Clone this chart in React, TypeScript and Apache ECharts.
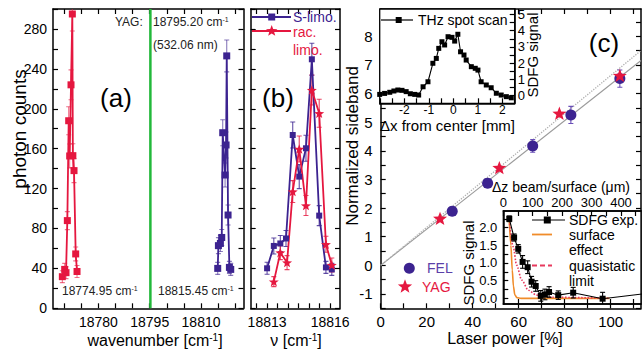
import React, { useEffect, useRef } from "react";
import * as echarts from "echarts";

const FONT = "'Liberation Sans', Arial, Helvetica, sans-serif";
const RED = "#e5173f";
const PURPLE = "#3c2390";
const GREEN = "#22b83a";
const ORANGE = "#f08c2a";
const PINK = "#e83a5e";

// ---------- Panel (a) ----------
const aRedX = [18769.48, 18770.16, 18770.55, 18770.94, 18771.33, 18771.62, 18772.01, 18772.4, 18772.55, 18772.89, 18773.38, 18773.77];
const aRedY = [31.7, 39, 35.7, 87.9, 188, 152.7, 224, 295, 153, 138, 54.5, 36.9];
const aRedErr = [6, 6, 6, 9, 14, 12, 15, 17, 12, 12, 7, 6];
const aBlueX = [18814.87, 18815.07, 18815.65, 18816.04, 18816.33, 18817.02, 18817.31, 18817.5, 18817.89, 18818.28, 18818.67];
const aBlueY = [40, 62.8, 65, 71, 176, 133.6, 163.7, 253, 93.5, 41, 39];
const aBlueErr = [6, 8, 8, 8, 13, 12, 13, 16, 10, 6, 6];
const yagLine = 18795.2;
const aXLabels = [18780, 18795, 18810];
const aYLabels = [0, 40, 80, 120, 160, 200, 240, 280];

// ---------- Panel (b) ----------
const bSX = [18813.0, 18813.32, 18813.63, 18813.9, 18814.22, 18814.53, 18814.85, 18815.13, 18815.48, 18815.8, 18816.08];
const bSY = [40.1, 62.5, 65, 70, 173.7, 132, 160.4, 249.6, 92.9, 41, 39];
const bSErr = [6, 8, 8, 8, 13, 12, 13, 16, 10, 6, 6];
const bRX = [18813.32, 18813.63, 18813.95, 18814.22, 18814.53, 18814.85, 18815.13, 18815.48, 18815.8, 18816.08];
const bRY = [26.7, 55.8, 45.8, 117, 159.7, 103, 218.8, 195.5, 64.2, 43.4];
const bRErr = [5, 7, 7, 11, 13, 10, 15, 14, 8, 7];
const bXLabels = [18813, 18816];

// ---------- Panel (c) ----------
const felX = [31.1, 46.5, 66.1, 82.7, 104];
const felY = [1.89, 2.87, 4.17, 5.25, 6.52];
const felErr = [0.15, 0.12, 0.22, 0.3, 0.3];
const yagX = [25.8, 51.6, 77.7, 104];
const yagY = [1.64, 3.41, 5.31, 6.63];
const fitSolid = [[0, 0], [113.2, 7.15]];
const fitDotted = [[0, 0], [113.2, 7.5]];
const cXLabels = [0, 20, 40, 60, 80, 100];
const cYLabels = [-1, 0, 1, 2, 3, 4, 5, 6, 7, 8];

// ---------- Inset 1 (THz spot scan) ----------
const thzX = [-3.01, -2.81, -2.6, -2.43, -2.27, -2.1, -1.93, -1.76, -1.58, -1.42, -1.24, -1.04, -0.84, -0.7, -0.6, -0.47, -0.36, -0.22, -0.06, 0.05, 0.18, 0.29, 0.43, 0.52, 0.73, 0.89, 1.0, 1.13, 1.34, 1.54, 1.75, 1.95, 2.16, 2.36];
const thzY = [0.07, 0.13, 0.2, 0.28, 0.34, 0.32, 0.24, 0.11, 0.07, 0.03, 0.54, 0.85, 1.99, 2.29, 2.91, 3.32, 3.12, 3.63, 3.59, 3.36, 3.78, 2.7, 2.5, 2.19, 1.78, 1.68, 1.57, 0.85, 0.65, 0.48, 0.14, 0.03, -0.07, -0.14];
const thzXLabels = [-2, -1, 0, 1, 2];
const thzYLabels = [0, 1, 2, 3, 4, 5];

// ---------- Inset 2 (SDFG vs beam/surface distance) ----------
const sdfgX = [55.9, 58.0, 59.8, 61.7, 63.9, 65.6, 67.4, 69.6, 71.4, 73.2, 77.2, 83.7, 96.5, 116];
const sdfgY = [2.25, 1.72, 1.4, 1.03, 0.88, 0.47, 0.35, 0.07, 0.11, 0.18, 0.09, 0.16, -0.01, 0.14];
const sdfgErr = [0.08, 0.1, 0.12, 0.18, 0.18, 0.15, 0.15, 0.15, 0.15, 0.15, 0.12, 0.15, 0.18, 0.15];
const surfX = [55.9, 56.6, 57.2, 57.7, 58.3, 59.2, 61.0, 99.5];
const surfY = [2.2, 1.5, 0.8, 0.35, 0.1, 0.02, 0.0, 0.0];
const quasiX = [55.9, 57.6, 59.1, 61.3, 64.2, 67.8, 75, 99.7];
const quasiY = [2.2, 1.46, 0.94, 0.52, 0.23, 0.09, 0.03, 0.0];
const dzLabels = [0, 100, 200, 300, 400];
const in2YLabels = [0, 0.5, 1.0, 1.5, 2.0];

// ---------- helpers ----------
function steps(a: number, b: number, s: number): number[] {
  const out: number[] = [];
  for (let v = a; v <= b + 1e-9; v += s) out.push(Math.round(v * 1000) / 1000);
  return out;
}
function zip(xs: number[], ys: number[]) {
  return xs.map((x, i) => [x, ys[i]]);
}
function starPath(): string {
  const pts: string[] = [];
  for (let i = 0; i < 10; i++) {
    const r = i % 2 === 0 ? 50 : 21;
    const a = ((-90 + i * 36) * Math.PI) / 180;
    pts.push(`${(50 + r * Math.cos(a)).toFixed(2)},${(50 + r * Math.sin(a)).toFixed(2)}`);
  }
  return "path://M" + pts.join("L") + "Z";
}
function starPoly(cx: number, cy: number, R: number) {
  const pts: number[][] = [];
  for (let i = 0; i < 10; i++) {
    const r = i % 2 === 0 ? R : R * 0.42;
    const a = ((-90 + i * 36) * Math.PI) / 180;
    pts.push([cx + r * Math.cos(a), cy + r * Math.sin(a)]);
  }
  return pts;
}
const STAR = starPath();

function axis(gridIndex: number, position: string, min: number, max: number, ticks: number[], labels: number[] | null, lab: any = {}, z = 0) {
  return {
    type: "value",
    gridIndex,
    position,
    min,
    max,
    z,
    axisLine: { show: true, onZero: false, lineStyle: { color: "#000", width: 1.5 } },
    axisTick: { show: true, inside: true, length: 5, customValues: ticks, lineStyle: { color: "#000", width: 1.2 } },
    axisLabel: labels
      ? { show: true, customValues: labels, color: "#000", fontFamily: FONT, fontSize: 14, margin: 6, formatter: (v: number) => String(v), ...lab }
      : { show: false },
    splitLine: { show: false },
    minorTick: { show: false },
  };
}

function errSeries(xs: number[], ys: number[], errs: number[], xi: number, yi: number, color: string, cap: number, z: number, opacity = 1) {
  return {
    type: "custom",
    xAxisIndex: xi,
    yAxisIndex: yi,
    z,
    silent: true,
    clip: true,
    data: xs.map((x, i) => [x, ys[i] - errs[i], ys[i] + errs[i]]),
    encode: { x: 0, y: [1, 2] },
    renderItem: (params: any, api: any) => {
      const x = api.value(0);
      const p1 = api.coord([x, api.value(1)]);
      const p2 = api.coord([x, api.value(2)]);
      const style = { stroke: color, lineWidth: 1.1, fill: null, opacity };
      return {
        type: "group",
        children: [
          { type: "line", shape: { x1: p1[0], y1: p1[1], x2: p2[0], y2: p2[1] }, style },
          { type: "line", shape: { x1: p1[0] - cap, y1: p1[1], x2: p1[0] + cap, y2: p1[1] }, style },
          { type: "line", shape: { x1: p2[0] - cap, y1: p2[1], x2: p2[0] + cap, y2: p2[1] }, style },
        ],
      };
    },
  };
}

function txt(x: number, y: number, text: string, o: any = {}) {
  const size = o.size || 14;
  return {
    type: "text",
    x,
    y,
    z: 30,
    rotation: o.rot || 0,
    style: {
      text,
      fontSize: size,
      fontFamily: FONT,
      fill: o.color || "#000",
      textAlign: o.align || "left",
      align: o.align || "left",
      textVerticalAlign: "middle",
      verticalAlign: "middle",
      rich: {
        s: { fontSize: Math.round(size * 0.62), fontFamily: FONT, fill: o.color || "#000", verticalAlign: "top", lineHeight: size },
      },
    },
  };
}
function seg(x1: number, y1: number, x2: number, y2: number, stroke: string, w = 1.5, dash: any = null) {
  return { type: "line", z: 30, shape: { x1, y1, x2, y2 }, style: { stroke, lineWidth: w, lineDash: dash } };
}
function sq(cx: number, cy: number, s: number, fill: string) {
  return { type: "rect", z: 31, shape: { x: cx - s / 2, y: cy - s / 2, width: s, height: s }, style: { fill } };
}

export default function App() {
  const ref = useRef<HTMLDivElement>(null);
  useEffect(() => {
    document.body.style.margin = "0";
    const chart = echarts.init(ref.current as HTMLDivElement, null, { renderer: "svg" });
    const insetGrid = { show: true, backgroundColor: "#fff", borderColor: "#000", borderWidth: 1.3, z: 5, outerBoundsMode: "none" };
    const option: any = {
      animation: false,
      backgroundColor: "#fff",
      grid: [
        { left: 53, top: 9, width: 190.5, height: 299.3, outerBoundsMode: "none" },
        { left: 250.7, top: 9, width: 89.3, height: 299.3, outerBoundsMode: "none" },
        { left: 380.7, top: 9, width: 260.3, height: 299.3, outerBoundsMode: "none" },
        { left: 379.7, top: 9, width: 135, height: 94.3, ...insetGrid },
        { left: 503.3, top: 211, width: 137.7, height: 93, ...insetGrid },
      ],
      xAxis: [
        axis(0, "bottom", 18766.75, 18822.4, steps(18770, 18820, 5), aXLabels, { margin: 7 }),
        axis(0, "top", 18766.75, 18822.4, steps(18770, 18820, 5), null),
        axis(1, "bottom", 18812.22, 18816.47, steps(18812.5, 18816, 0.5), bXLabels, { margin: 7 }),
        axis(1, "top", 18812.22, 18816.47, steps(18812.5, 18816, 0.5), null),
        axis(2, "bottom", 0, 113.2, steps(0, 110, 10), cXLabels, { fontSize: 15, margin: 6 }),
        axis(2, "top", 0, 113.2, steps(0, 110, 10), null),
        axis(3, "bottom", -3.01, 2.5, steps(-3, 2.5, 0.5), thzXLabels, { fontSize: 12, margin: 1 }, 9),
        axis(4, "bottom", 53.3, 113.2, steps(60, 110, 10), null, {}, 9),
        axis(4, "top", 0, 468, steps(0, 450, 50), dzLabels, { fontSize: 13, margin: 2 }, 9),
      ],
      yAxis: [
        axis(0, "left", 0, 300, steps(0, 300, 20), aYLabels, { margin: 6 }),
        axis(0, "right", 0, 300, steps(0, 300, 20), null),
        axis(1, "left", 0, 300, steps(0, 300, 20), null),
        axis(1, "right", 0, 300, steps(0, 300, 20), null),
        axis(2, "left", -1.5, 8.95, steps(-1.5, 8.5, 0.5), cYLabels, { fontSize: 15, margin: 8 }),
        axis(2, "right", -1.5, 8.95, steps(-1.5, 8.5, 0.5), null),
        axis(3, "right", -0.48, 5.34, steps(0, 5, 0.5), thzYLabels, { fontSize: 13, margin: 3 }, 9),
        axis(4, "left", -0.16, 2.47, steps(0, 2.25, 0.25), in2YLabels, { fontSize: 13, margin: 6, formatter: (v: number) => v.toFixed(1) }, 9),
      ],
      series: [
        // (a)
        { type: "line", xAxisIndex: 0, yAxisIndex: 0, data: [[yagLine, 0], [yagLine, 300]], symbol: "none", lineStyle: { color: GREEN, width: 2.5 }, z: 2 },
        errSeries(aRedX, aRedY, aRedErr, 0, 0, RED, 2.5, 2, 0.6),
        errSeries(aBlueX, aBlueY, aBlueErr, 0, 0, PURPLE, 2.5, 2, 0.6),
        { type: "line", xAxisIndex: 0, yAxisIndex: 0, data: zip(aRedX, aRedY), symbol: "rect", symbolSize: 7, itemStyle: { color: RED }, lineStyle: { color: RED, width: 1.8 }, z: 3 },
        { type: "line", xAxisIndex: 0, yAxisIndex: 0, data: zip(aBlueX, aBlueY), symbol: "rect", symbolSize: 7, itemStyle: { color: PURPLE }, lineStyle: { color: PURPLE, width: 1.8 }, z: 3 },
        // (b)
        errSeries(bSX, bSY, bSErr, 2, 2, PURPLE, 2.5, 2, 0.8),
        errSeries(bRX, bRY, bRErr, 2, 2, RED, 2.5, 2, 0.8),
        { type: "line", xAxisIndex: 2, yAxisIndex: 2, data: zip(bSX, bSY), symbol: "rect", symbolSize: 6, itemStyle: { color: PURPLE }, lineStyle: { color: PURPLE, width: 1.8 }, z: 3 },
        { type: "line", xAxisIndex: 2, yAxisIndex: 2, data: zip(bRX, bRY), symbol: STAR, symbolKeepAspect: true, symbolSize: 10, itemStyle: { color: RED }, lineStyle: { color: RED, width: 1.8 }, z: 3 },
        // (c)
        { type: "line", xAxisIndex: 4, yAxisIndex: 4, data: fitSolid, symbol: "none", lineStyle: { color: "#9a9a9a", width: 1.1 }, z: 2 },
        { type: "line", xAxisIndex: 4, yAxisIndex: 4, data: fitDotted, symbol: "none", lineStyle: { color: "#b0b0b0", width: 1.3, type: "dotted" }, z: 2 },
        errSeries(felX, felY, felErr, 4, 4, "#6a4fb8", 2.5, 3),
        { type: "scatter", xAxisIndex: 4, yAxisIndex: 4, data: zip(felX, felY), symbol: "circle", symbolSize: 11, itemStyle: { color: PURPLE, opacity: 1 }, z: 4 },
        { type: "scatter", xAxisIndex: 4, yAxisIndex: 4, data: zip(yagX, yagY), symbol: STAR, symbolKeepAspect: true, symbolSize: 14, itemStyle: { color: RED, opacity: 1 }, z: 4 },
        // inset 1
        { type: "line", xAxisIndex: 6, yAxisIndex: 6, data: zip(thzX, thzY), symbol: "rect", symbolSize: 5, itemStyle: { color: "#000" }, lineStyle: { color: "#000", width: 1.1 }, z: 8 },
        // inset 2
        { type: "line", xAxisIndex: 7, yAxisIndex: 7, data: zip(surfX, surfY), symbol: "none", smooth: 0.3, smoothMonotone: "x", lineStyle: { color: ORANGE, width: 1.6 }, z: 7 },
        { type: "line", xAxisIndex: 7, yAxisIndex: 7, data: zip(quasiX, quasiY), symbol: "none", smooth: 0.3, smoothMonotone: "x", lineStyle: { color: PINK, width: 1.6, type: "dotted" }, z: 7 },
        errSeries(sdfgX, sdfgY, sdfgErr, 7, 7, "#000", 2.5, 8),
        { type: "line", xAxisIndex: 7, yAxisIndex: 7, data: zip(sdfgX, sdfgY), symbol: "rect", symbolSize: 6, itemStyle: { color: "#000" }, lineStyle: { color: "#000", width: 1.1 }, z: 8 },
      ],
      graphic: [
        // panel (a)
        txt(116, 98, "(a)", { size: 26, align: "center" }),
        txt(115, 22, "YAG:", { size: 12, color: "#222" }),
        txt(153, 22, "18795.20 cm{s|-1}", { size: 12, color: "#222" }),
        txt(153, 45, "(532.06 nm)", { size: 12, color: "#222" }),
        txt(62, 291, "18774.95 cm{s|-1}", { size: 12, color: "#222" }),
        txt(158, 291, "18815.45 cm{s|-1}", { size: 12, color: "#222" }),
        txt(19, 129, "photon counts", { size: 19, align: "center", rot: Math.PI / 2 }),
        txt(155, 340, "wavenumber [cm{s|-1}]", { size: 16, align: "center" }),
        // panel (b)
        txt(278, 98, "(b)", { size: 26, align: "center" }),
        txt(296, 340, "ν [cm{s|-1}]", { size: 16, align: "center" }),
        seg(252, 17, 291, 17, PURPLE, 1.8),
        sq(271.7, 17, 7, PURPLE),
        txt(293, 17, "S-limo.", { size: 14, color: PURPLE }),
        seg(252, 31, 291, 31, RED, 1.8),
        { type: "polygon", z: 31, shape: { points: starPoly(271.7, 31, 6) }, style: { fill: RED } },
        txt(293, 31.5, "rac.", { size: 14, color: RED }),
        txt(293, 50, "limo.", { size: 14, color: RED }),
        // panel (c)
        txt(604, 43, "(c)", { size: 26, align: "center" }),
        txt(352, 146, "Normalized sideband", { size: 17, align: "center", rot: Math.PI / 2 }),
        txt(505, 338, "Laser power [%]", { size: 16, align: "center" }),
        { type: "circle", z: 31, shape: { cx: 409.3, cy: 268.3, r: 5.5 }, style: { fill: PURPLE } },
        txt(427, 268.3, "FEL", { size: 14, color: "#5b40a8" }),
        { type: "polygon", z: 31, shape: { points: starPoly(405, 286.7, 7.5) }, style: { fill: RED } },
        txt(422, 287, "YAG", { size: 14, color: RED }),
        // inset 1
        seg(381, 20, 413, 20, "#000", 1.2),
        sq(398.7, 20, 6, "#000"),
        txt(418, 20, "THz spot scan", { size: 14 }),
        txt(380, 125, "Δx from center [mm]", { size: 15 }),
        txt(532, 55, "SDFG signal", { size: 15, align: "center", rot: Math.PI / 2 }),
        // inset 2
        txt(492, 187, "Δz beam/surface (μm)", { size: 14 }),
        txt(468, 263, "SDFG signal", { size: 15, align: "center", rot: Math.PI / 2 }),
        seg(532, 220, 565, 220, "#000", 1.2),
        sq(547.3, 220, 7, "#000"),
        txt(569, 220, "SDFG exp.", { size: 14 }),
        seg(532, 234.5, 552, 234.5, ORANGE, 1.8),
        txt(569, 234.5, "surface", { size: 14 }),
        txt(569, 250, "effect", { size: 14 }),
        seg(532, 265.5, 552, 265.5, PINK, 1.8, [5, 3]),
        txt(569, 265.5, "quasistatic", { size: 14 }),
        txt(569, 281, "limit", { size: 14 }),
      ],
    };
    chart.setOption(option);
    return () => chart.dispose();
  }, []);
  return <div ref={ref} style={{ position: "absolute", left: 0, top: 0, width: 642, height: 350 }} />;
}
